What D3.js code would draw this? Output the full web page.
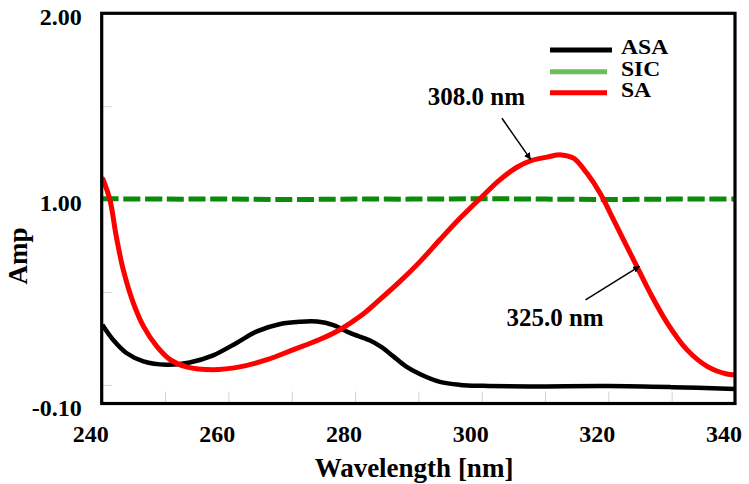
<!DOCTYPE html>
<html>
<head>
<meta charset="utf-8">
<script src="https://cdn.jsdelivr.net/npm/d3@7"></script>
<style>
  body { margin: 0; background: #fff; }
  svg { display: block; }
</style>
</head>
<body>
<svg id="chart" width="749" height="484"></svg>
<script>
// Spectra
const asaWavelength = [240.1, 241.8, 243.9, 246.6, 250.2, 253.9, 257.6, 261.3, 264.5, 268.2, 271.3, 274.0,
    276.6, 279.2, 282.3, 284.2, 286.0, 288.1, 290.3, 293.4, 296.6, 300.2, 307.6, 320.0, 330.0, 340.0];
const asaAmp = [0.324, 0.243, 0.172, 0.127, 0.109, 0.121, 0.159, 0.226, 0.288, 0.328, 0.340, 0.341,
    0.322, 0.280, 0.240, 0.203, 0.155, 0.098, 0.057, 0.016, 0.000, -0.005, -0.008, -0.006, -0.012, -0.022];

const sicWavelength = [240, 250, 260, 270, 280, 290, 300, 310, 320, 330, 340];
const sicAmp = [1.002, 1.000, 1.000, 0.998, 1.000, 1.000, 1.002, 1.000, 0.998, 1.000, 1.000];

const saWavelength = [240.2, 241.3, 242.3, 243.4, 245.0, 246.6, 248.7, 250.8, 253.4, 257.6, 261.8, 266.1,
    270.3, 274.4, 277.6, 280.8, 283.9, 287.1, 290.3, 293.4, 296.6, 299.8, 302.9, 305.5, 307.9, 310.3,
    312.6, 314.5, 316.6, 318.7, 320.3, 322.4, 324.5, 326.6, 329.3, 332.4, 335.6, 338.7, 339.8];
const saAmp = [1.108, 0.996, 0.800, 0.620, 0.440, 0.315, 0.207, 0.136, 0.097, 0.082, 0.097, 0.136,
    0.190, 0.244, 0.297, 0.369, 0.459, 0.557, 0.665, 0.781, 0.898, 1.005, 1.105, 1.170, 1.208, 1.226,
    1.238, 1.220, 1.140, 1.032, 0.925, 0.781, 0.638, 0.495, 0.333, 0.190, 0.100, 0.059, 0.055];

const xLabelTicks = [240, 260, 280, 300, 320, 340];
const xMinorTicks = [250, 260, 270, 280, 290, 300, 310, 320, 330];
const yLabelTicks = [2.0, 1.0, -0.1];
const yMinorTicks = [0, 0.5, 1.5];

const legendNames = ['ASA', 'SIC', 'SA'];

// Peak annotations: label, label position, arrow tail, arrow tip
const notes = [
    { text: '308.0 nm', tx: 291.5, ty: 1.507, x1: 303.2, y1: 1.435, x2: 307.7, y2: 1.215 },
    { text: '325.0 nm', tx: 303.9, ty: 0.319, x1: 316.4, y1: 0.458, x2: 324.9, y2: 0.638 }
];

const FONT = 'Liberation Serif';

const svg = d3.select('#chart');
const plot = { left: 101.7, right: 735, top: 13.3, bottom: 403.5 };

const x = d3.scaleLinear().domain([240, 340]).range([plot.left, plot.right]);
const y = d3.scaleLinear().domain([-0.1, 2.0]).range([plot.bottom, plot.top]);

function plainAxis(g) {
    g.attr('font-family', null).attr('font-size', null);
    g.select('.domain').remove();
}

// Light inner ticks
svg.append('g')
    .attr('transform', `translate(0,${plot.bottom})`)
    .call(d3.axisBottom(x).tickValues(xMinorTicks).tickSize(-12).tickFormat(''))
    .call(plainAxis)
    .call(g => g.selectAll('line').attr('stroke', '#d4d4d4'));

svg.append('g')
    .attr('transform', `translate(${plot.left},0)`)
    .call(d3.axisLeft(y).tickValues(yMinorTicks).tickSize(-10).tickFormat(''))
    .call(plainAxis)
    .call(g => g.selectAll('line').attr('stroke', '#d4d4d4'));

// Tick labels
svg.append('g')
    .attr('transform', `translate(0,${plot.bottom})`)
    .call(d3.axisBottom(x).tickValues(xLabelTicks).tickSize(0).tickPadding(0).tickFormat(d3.format('d')))
    .call(plainAxis)
    .call(g => g.selectAll('text')
        .attr('font-size', 24)
        .attr('fill', '#000')
        .attr('dx', -11.5)
        .attr('dy', 0)
        .attr('y', 38.5));

const yFormat = d => d3.format('.2f')(d).replace('\u2212', '-');
svg.append('g')
    .attr('transform', `translate(${plot.left},0)`)
    .call(d3.axisLeft(y).tickValues(yLabelTicks).tickSize(0).tickPadding(20).tickFormat(yFormat))
    .call(plainAxis)
    .call(g => g.selectAll('text')
        .attr('font-size', 24)
        .attr('fill', '#000')
        .attr('dy', '0.36em')
        .attr('transform', 'translate(0,3)'));

// Curves
const line = d3.line()
    .x(d => x(d[0]))
    .y(d => y(d[1]))
    .curve(d3.curveCatmullRom.alpha(0.5));

svg.append('path')
    .datum(d3.zip(asaWavelength, asaAmp))
    .attr('fill', 'none')
    .attr('stroke', '#000')
    .attr('stroke-width', 4.5)
    .attr('d', line);

svg.append('path')
    .datum(d3.zip(sicWavelength, sicAmp))
    .attr('fill', 'none')
    .attr('stroke', '#0a8c0a')
    .attr('stroke-width', 5)
    .attr('stroke-dasharray', '17,4.7')
    .attr('d', line);

svg.append('path')
    .datum(d3.zip(saWavelength, saAmp))
    .attr('fill', 'none')
    .attr('stroke', '#ff0000')
    .attr('stroke-width', 5)
    .attr('stroke-linecap', 'round')
    .attr('d', line);

// Frame
svg.append('rect')
    .attr('x', plot.left)
    .attr('y', plot.top)
    .attr('width', plot.right - plot.left)
    .attr('height', plot.bottom - plot.top)
    .attr('fill', 'none')
    .attr('stroke', '#000')
    .attr('stroke-width', 3.2);

// Axis titles
svg.append('text')
    .attr('x', 414)
    .attr('y', 477)
    .attr('text-anchor', 'middle')
    .attr('font-size', 27)
    .text('Wavelength [nm]');

svg.append('text')
    .attr('transform', 'translate(27,256) rotate(-90)')
    .attr('text-anchor', 'middle')
    .attr('font-size', 27)
    .text('Amp');

// Legend
const legendColors = ['#000', '#6abf5a', '#ff0000'];
const legendY = [50, 71.7, 92.7];
const legend = svg.append('g');
legendNames.forEach((name, i) => {
    legend.append('line')
        .attr('x1', 550).attr('x2', i === 0 ? 612 : 607)
        .attr('y1', legendY[i]).attr('y2', legendY[i])
        .attr('stroke', legendColors[i])
        .attr('stroke-width', 5);
    legend.append('text')
        .attr('transform', `translate(621,${legendY[i] + 4}) scale(1.18,1)`)
        .attr('font-size', 20)
        .text(name);
});

// Annotations
svg.append('defs').append('marker')
    .attr('id', 'arrow')
    .attr('viewBox', '0 0 10 10')
    .attr('refX', 9).attr('refY', 5)
    .attr('markerWidth', 7).attr('markerHeight', 7)
    .attr('markerUnits', 'userSpaceOnUse')
    .attr('orient', 'auto')
    .append('path')
    .attr('d', 'M0,0 L10,5 L0,10 Z')
    .attr('fill', '#000');

notes.forEach(n => {
    svg.append('line')
        .attr('x1', x(n.x1)).attr('y1', y(n.y1))
        .attr('x2', x(n.x2)).attr('y2', y(n.y2))
        .attr('stroke', '#000')
        .attr('stroke-width', 1.5)
        .attr('marker-end', 'url(#arrow)');
    svg.append('text')
        .attr('x', x(n.tx))
        .attr('y', y(n.ty))
        .attr('font-size', 25)
        .text(n.text);
});

// Font set on every text element directly
svg.selectAll('text')
    .attr('font-family', FONT)
    .attr('font-weight', 'bold');
</script>
</body>
</html>
